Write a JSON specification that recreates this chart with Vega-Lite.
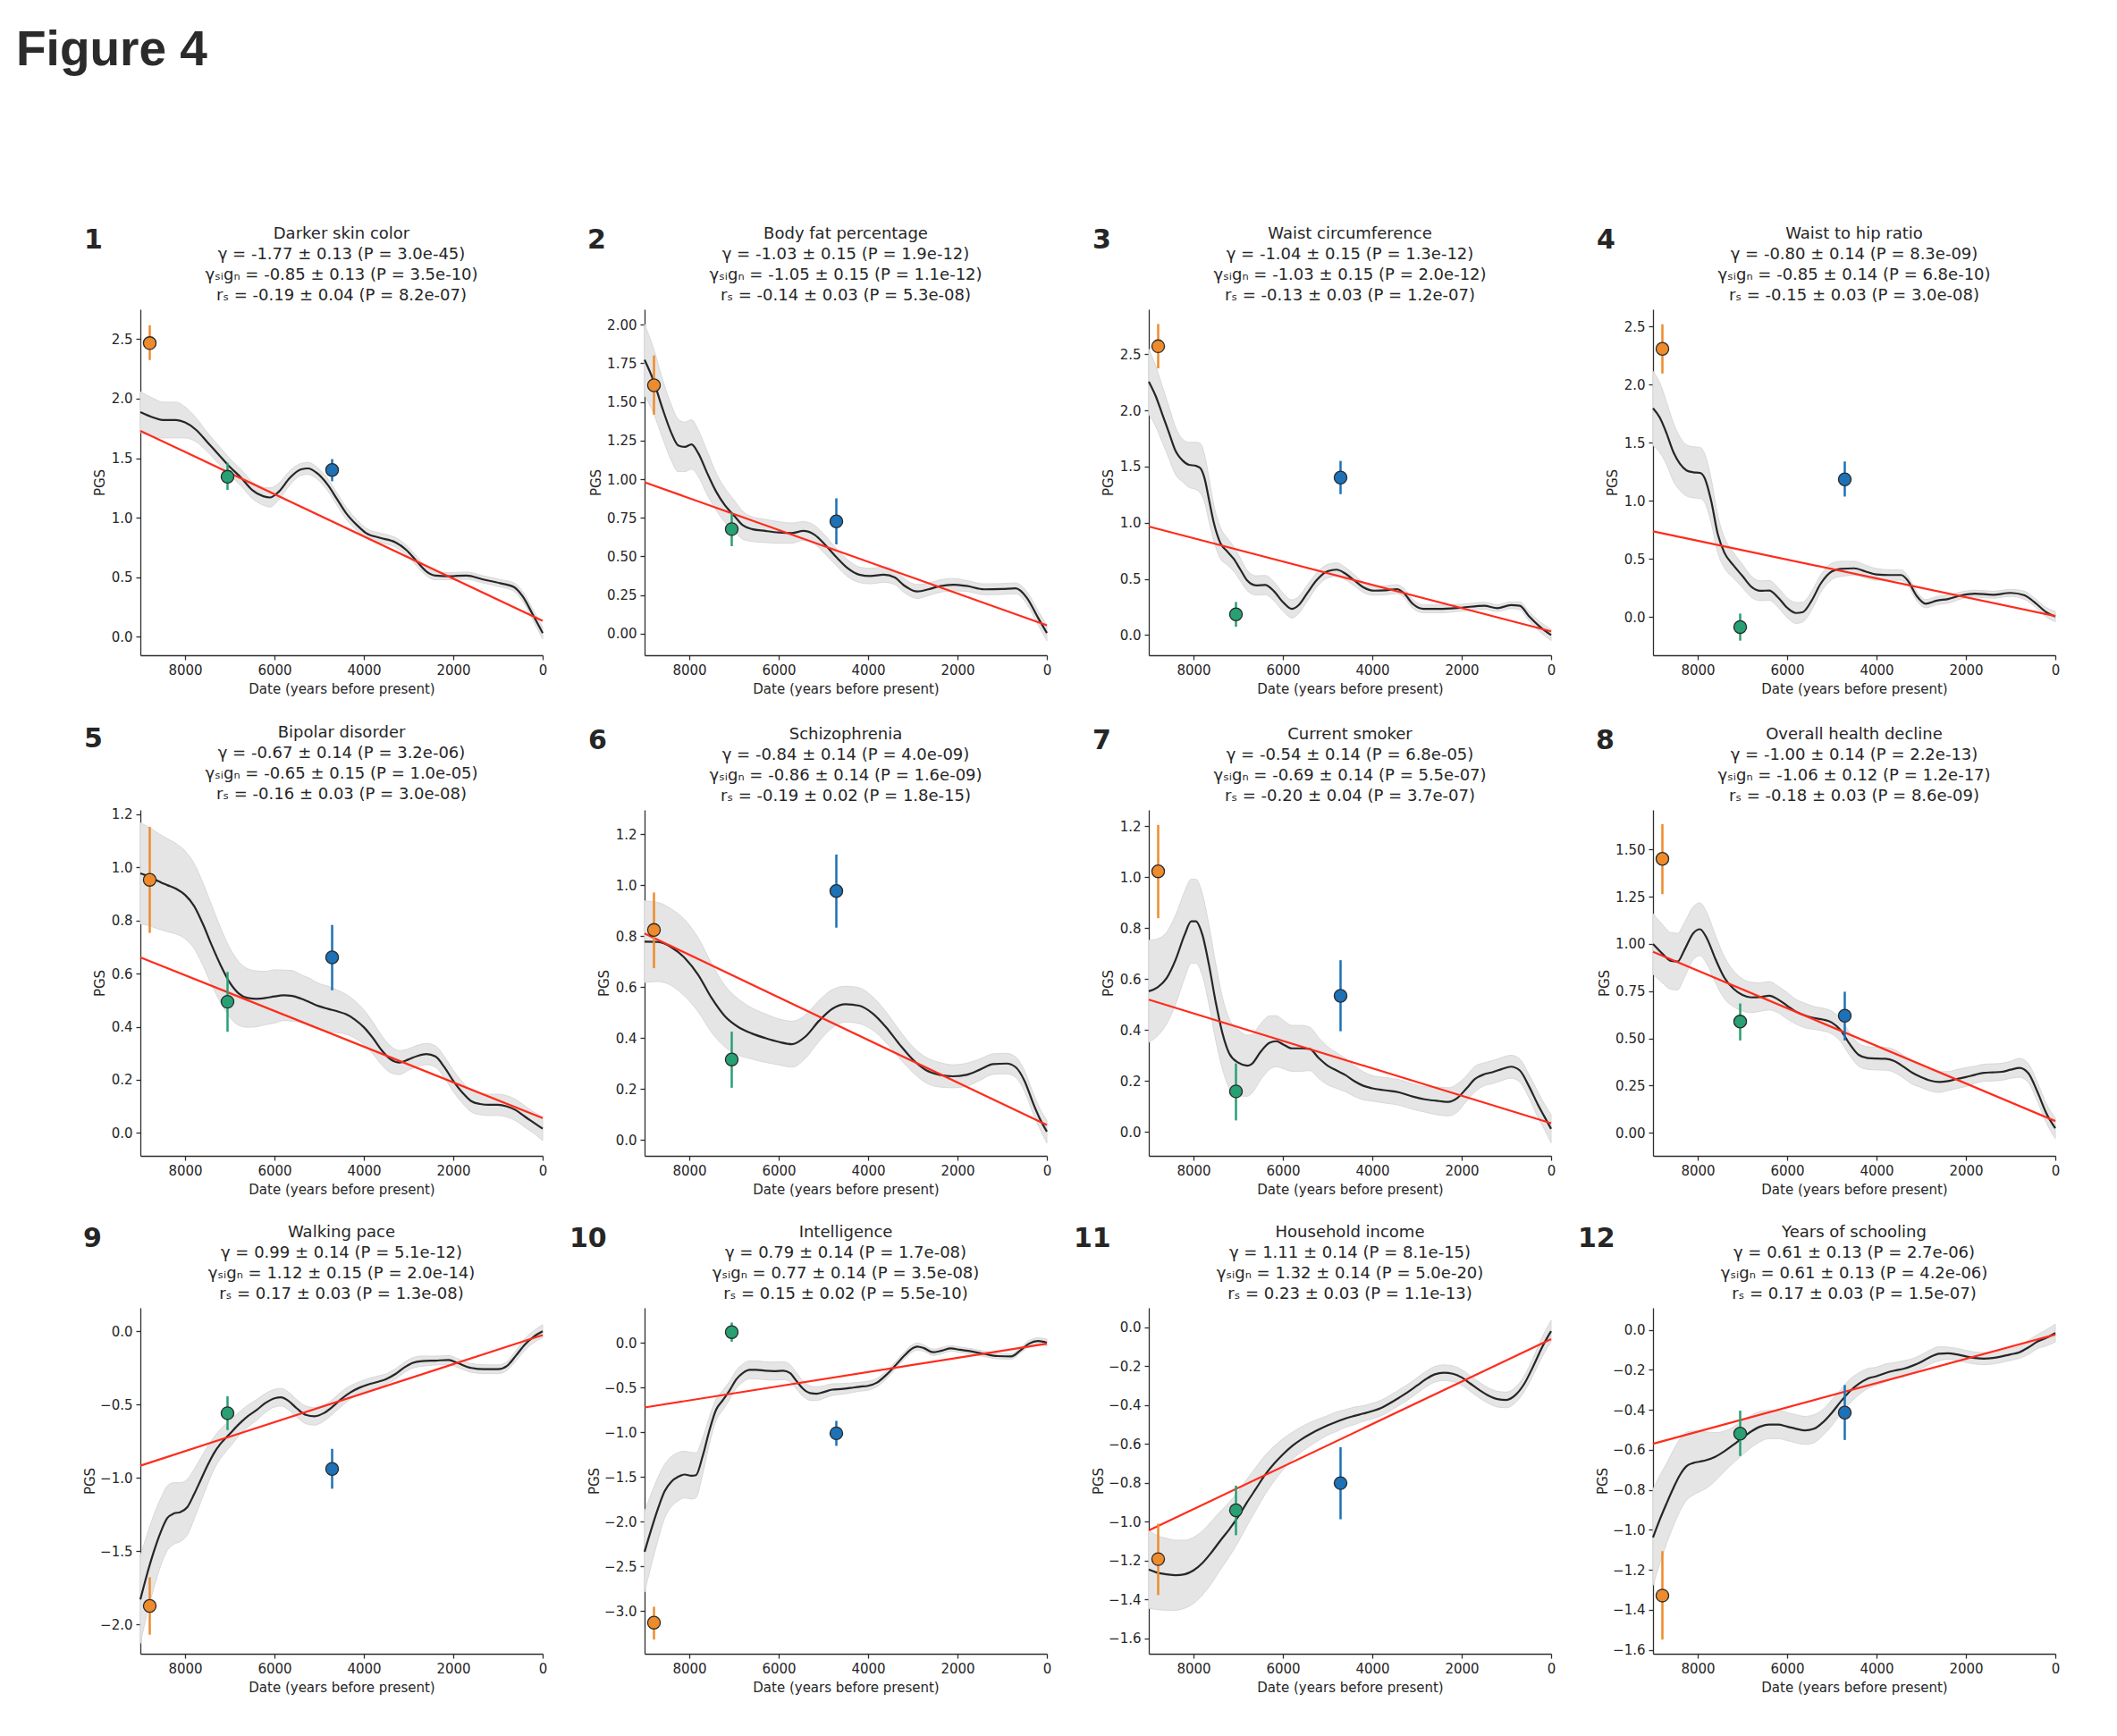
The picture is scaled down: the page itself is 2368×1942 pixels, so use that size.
{
"$schema":"https://vega.github.io/schema/vega-lite/v6.json",
"padding":{"left":18,"top":29,"right":20,"bottom":20},
"background":"white",
"title":{"text":"Figure 4","anchor":"start","frame":"bounds","font":"Liberation Sans","fontSize":55,"fontWeight":"bold","color":"#2b2b2b","dx":-75,"offset":168},
"datasets":{
"curves":[
{"p":1,"x":9000,"y":1.887,"lo":1.717,"hi":2.057},{"p":1,"x":8700,"y":1.84,"lo":1.68,"hi":2.0},{"p":1,"x":8500,"y":1.82,"lo":1.67,"hi":1.97},{"p":1,"x":8200,"y":1.82,"lo":1.67,"hi":1.97},{"p":1,"x":8000,"y":1.8,"lo":1.67,"hi":1.93},{"p":1,"x":7750,"y":1.737,"lo":1.637,"hi":1.837},{"p":1,"x":7500,"y":1.634,"lo":1.554,"hi":1.714},{"p":1,"x":7250,"y":1.53,"lo":1.455,"hi":1.605},{"p":1,"x":7000,"y":1.427,"lo":1.357,"hi":1.497},{"p":1,"x":6750,"y":1.337,"lo":1.267,"hi":1.407},{"p":1,"x":6500,"y":1.233,"lo":1.163,"hi":1.303},{"p":1,"x":6250,"y":1.18,"lo":1.105,"hi":1.255},{"p":1,"x":6100,"y":1.17,"lo":1.09,"hi":1.25},{"p":1,"x":5900,"y":1.22,"lo":1.15,"hi":1.29},{"p":1,"x":5650,"y":1.337,"lo":1.277,"hi":1.397},{"p":1,"x":5400,"y":1.406,"lo":1.356,"hi":1.456},{"p":1,"x":5250,"y":1.414,"lo":1.364,"hi":1.464},{"p":1,"x":5050,"y":1.375,"lo":1.325,"hi":1.425},{"p":1,"x":4800,"y":1.272,"lo":1.222,"hi":1.322},{"p":1,"x":4600,"y":1.156,"lo":1.106,"hi":1.206},{"p":1,"x":4400,"y":1.04,"lo":0.99,"hi":1.09},{"p":1,"x":4150,"y":0.936,"lo":0.891,"hi":0.981},{"p":1,"x":3950,"y":0.871,"lo":0.831,"hi":0.911},{"p":1,"x":3650,"y":0.832,"lo":0.792,"hi":0.872},{"p":1,"x":3300,"y":0.794,"lo":0.754,"hi":0.834},{"p":1,"x":3050,"y":0.729,"lo":0.689,"hi":0.769},{"p":1,"x":2800,"y":0.626,"lo":0.586,"hi":0.666},{"p":1,"x":2600,"y":0.548,"lo":0.513,"hi":0.583},{"p":1,"x":2400,"y":0.514,"lo":0.479,"hi":0.549},{"p":1,"x":2100,"y":0.509,"lo":0.479,"hi":0.539},{"p":1,"x":1700,"y":0.514,"lo":0.484,"hi":0.544},{"p":1,"x":1350,"y":0.483,"lo":0.453,"hi":0.513},{"p":1,"x":950,"y":0.45,"lo":0.42,"hi":0.48},{"p":1,"x":650,"y":0.419,"lo":0.384,"hi":0.454},{"p":1,"x":450,"y":0.341,"lo":0.301,"hi":0.381},{"p":1,"x":220,"y":0.186,"lo":0.141,"hi":0.231},{"p":1,"x":0,"y":0.031,"lo":-0.019,"hi":0.081},
{"p":2,"x":9000,"y":1.773,"lo":1.543,"hi":2.003},{"p":2,"x":8800,"y":1.637,"lo":1.427,"hi":1.847},{"p":2,"x":8600,"y":1.458,"lo":1.268,"hi":1.648},{"p":2,"x":8400,"y":1.299,"lo":1.119,"hi":1.479},{"p":2,"x":8250,"y":1.219,"lo":1.049,"hi":1.389},{"p":2,"x":8100,"y":1.209,"lo":1.049,"hi":1.369},{"p":2,"x":7950,"y":1.225,"lo":1.065,"hi":1.385},{"p":2,"x":7800,"y":1.169,"lo":1.019,"hi":1.319},{"p":2,"x":7600,"y":1.04,"lo":0.9,"hi":1.18},{"p":2,"x":7400,"y":0.92,"lo":0.8,"hi":1.04},{"p":2,"x":7200,"y":0.83,"lo":0.72,"hi":0.94},{"p":2,"x":7000,"y":0.765,"lo":0.665,"hi":0.865},{"p":2,"x":6800,"y":0.701,"lo":0.611,"hi":0.791},{"p":2,"x":6600,"y":0.677,"lo":0.597,"hi":0.757},{"p":2,"x":6300,"y":0.665,"lo":0.59,"hi":0.74},{"p":2,"x":6000,"y":0.655,"lo":0.585,"hi":0.725},{"p":2,"x":5700,"y":0.651,"lo":0.586,"hi":0.716},{"p":2,"x":5450,"y":0.665,"lo":0.605,"hi":0.725},{"p":2,"x":5200,"y":0.641,"lo":0.581,"hi":0.701},{"p":2,"x":4950,"y":0.572,"lo":0.512,"hi":0.632},{"p":2,"x":4700,"y":0.492,"lo":0.437,"hi":0.547},{"p":2,"x":4450,"y":0.422,"lo":0.367,"hi":0.477},{"p":2,"x":4200,"y":0.382,"lo":0.332,"hi":0.432},{"p":2,"x":3950,"y":0.373,"lo":0.323,"hi":0.423},{"p":2,"x":3650,"y":0.382,"lo":0.332,"hi":0.432},{"p":2,"x":3400,"y":0.363,"lo":0.318,"hi":0.408},{"p":2,"x":3200,"y":0.313,"lo":0.268,"hi":0.358},{"p":2,"x":2900,"y":0.273,"lo":0.228,"hi":0.318},{"p":2,"x":2650,"y":0.287,"lo":0.247,"hi":0.327},{"p":2,"x":2400,"y":0.307,"lo":0.267,"hi":0.347},{"p":2,"x":2100,"y":0.317,"lo":0.277,"hi":0.357},{"p":2,"x":1800,"y":0.309,"lo":0.274,"hi":0.344},{"p":2,"x":1400,"y":0.287,"lo":0.252,"hi":0.322},{"p":2,"x":1000,"y":0.289,"lo":0.254,"hi":0.324},{"p":2,"x":700,"y":0.293,"lo":0.258,"hi":0.328},{"p":2,"x":450,"y":0.233,"lo":0.193,"hi":0.273},{"p":2,"x":200,"y":0.104,"lo":0.059,"hi":0.149},{"p":2,"x":0,"y":0.004,"lo":-0.046,"hi":0.054},
{"p":3,"x":9000,"y":2.256,"lo":1.966,"hi":2.546},{"p":3,"x":8850,"y":2.132,"lo":1.862,"hi":2.402},{"p":3,"x":8700,"y":1.968,"lo":1.718,"hi":2.218},{"p":3,"x":8550,"y":1.803,"lo":1.573,"hi":2.033},{"p":3,"x":8400,"y":1.638,"lo":1.428,"hi":1.848},{"p":3,"x":8250,"y":1.556,"lo":1.366,"hi":1.746},{"p":3,"x":8100,"y":1.515,"lo":1.315,"hi":1.715},{"p":3,"x":7950,"y":1.507,"lo":1.297,"hi":1.717},{"p":3,"x":7850,"y":1.487,"lo":1.267,"hi":1.707},{"p":3,"x":7750,"y":1.391,"lo":1.181,"hi":1.601},{"p":3,"x":7650,"y":1.199,"lo":1.009,"hi":1.389},{"p":3,"x":7550,"y":1.007,"lo":0.847,"hi":1.167},{"p":3,"x":7400,"y":0.82,"lo":0.68,"hi":0.96},{"p":3,"x":7250,"y":0.746,"lo":0.626,"hi":0.866},{"p":3,"x":7100,"y":0.678,"lo":0.568,"hi":0.788},{"p":3,"x":6950,"y":0.582,"lo":0.482,"hi":0.682},{"p":3,"x":6800,"y":0.486,"lo":0.396,"hi":0.576},{"p":3,"x":6600,"y":0.442,"lo":0.357,"hi":0.527},{"p":3,"x":6400,"y":0.445,"lo":0.36,"hi":0.53},{"p":3,"x":6200,"y":0.39,"lo":0.305,"hi":0.475},{"p":3,"x":6000,"y":0.294,"lo":0.214,"hi":0.374},{"p":3,"x":5800,"y":0.233,"lo":0.153,"hi":0.313},{"p":3,"x":5650,"y":0.266,"lo":0.191,"hi":0.341},{"p":3,"x":5450,"y":0.376,"lo":0.306,"hi":0.446},{"p":3,"x":5250,"y":0.486,"lo":0.421,"hi":0.551},{"p":3,"x":5000,"y":0.568,"lo":0.508,"hi":0.628},{"p":3,"x":4800,"y":0.582,"lo":0.522,"hi":0.642},{"p":3,"x":4600,"y":0.546,"lo":0.491,"hi":0.601},{"p":3,"x":4400,"y":0.486,"lo":0.436,"hi":0.536},{"p":3,"x":4200,"y":0.425,"lo":0.38,"hi":0.47},{"p":3,"x":3950,"y":0.395,"lo":0.355,"hi":0.435},{"p":3,"x":3700,"y":0.398,"lo":0.358,"hi":0.438},{"p":3,"x":3450,"y":0.409,"lo":0.369,"hi":0.449},{"p":3,"x":3300,"y":0.376,"lo":0.336,"hi":0.416},{"p":3,"x":3100,"y":0.28,"lo":0.24,"hi":0.32},{"p":3,"x":2850,"y":0.233,"lo":0.198,"hi":0.268},{"p":3,"x":2500,"y":0.233,"lo":0.198,"hi":0.268},{"p":3,"x":2000,"y":0.244,"lo":0.214,"hi":0.274},{"p":3,"x":1500,"y":0.261,"lo":0.231,"hi":0.291},{"p":3,"x":1200,"y":0.239,"lo":0.209,"hi":0.269},{"p":3,"x":900,"y":0.266,"lo":0.236,"hi":0.296},{"p":3,"x":700,"y":0.261,"lo":0.226,"hi":0.296},{"p":3,"x":500,"y":0.17,"lo":0.13,"hi":0.21},{"p":3,"x":250,"y":0.074,"lo":0.029,"hi":0.119},{"p":3,"x":0,"y":0.0,"lo":-0.05,"hi":0.05},
{"p":4,"x":9000,"y":1.797,"lo":1.477,"hi":2.117},{"p":4,"x":8850,"y":1.718,"lo":1.418,"hi":2.018},{"p":4,"x":8700,"y":1.585,"lo":1.315,"hi":1.855},{"p":4,"x":8550,"y":1.426,"lo":1.176,"hi":1.676},{"p":4,"x":8400,"y":1.32,"lo":1.09,"hi":1.55},{"p":4,"x":8250,"y":1.262,"lo":1.042,"hi":1.482},{"p":4,"x":8100,"y":1.246,"lo":1.026,"hi":1.466},{"p":4,"x":7950,"y":1.241,"lo":1.021,"hi":1.461},{"p":4,"x":7850,"y":1.201,"lo":0.991,"hi":1.411},{"p":4,"x":7700,"y":1.002,"lo":0.812,"hi":1.192},{"p":4,"x":7550,"y":0.711,"lo":0.551,"hi":0.871},{"p":4,"x":7400,"y":0.551,"lo":0.421,"hi":0.681},{"p":4,"x":7200,"y":0.445,"lo":0.335,"hi":0.555},{"p":4,"x":7000,"y":0.353,"lo":0.253,"hi":0.453},{"p":4,"x":6800,"y":0.26,"lo":0.17,"hi":0.35},{"p":4,"x":6600,"y":0.225,"lo":0.14,"hi":0.31},{"p":4,"x":6400,"y":0.228,"lo":0.143,"hi":0.313},{"p":4,"x":6200,"y":0.167,"lo":0.082,"hi":0.252},{"p":4,"x":6000,"y":0.08,"lo":-0.005,"hi":0.165},{"p":4,"x":5800,"y":0.034,"lo":-0.056,"hi":0.124},{"p":4,"x":5650,"y":0.042,"lo":-0.043,"hi":0.127},{"p":4,"x":5450,"y":0.141,"lo":0.061,"hi":0.221},{"p":4,"x":5250,"y":0.286,"lo":0.211,"hi":0.361},{"p":4,"x":5000,"y":0.392,"lo":0.322,"hi":0.462},{"p":4,"x":4800,"y":0.414,"lo":0.349,"hi":0.479},{"p":4,"x":4500,"y":0.419,"lo":0.359,"hi":0.479},{"p":4,"x":4250,"y":0.392,"lo":0.337,"hi":0.447},{"p":4,"x":4000,"y":0.366,"lo":0.316,"hi":0.416},{"p":4,"x":3700,"y":0.361,"lo":0.316,"hi":0.406},{"p":4,"x":3450,"y":0.361,"lo":0.316,"hi":0.406},{"p":4,"x":3300,"y":0.313,"lo":0.273,"hi":0.353},{"p":4,"x":3100,"y":0.18,"lo":0.14,"hi":0.22},{"p":4,"x":2900,"y":0.114,"lo":0.079,"hi":0.149},{"p":4,"x":2650,"y":0.141,"lo":0.106,"hi":0.176},{"p":4,"x":2400,"y":0.154,"lo":0.119,"hi":0.189},{"p":4,"x":2100,"y":0.186,"lo":0.156,"hi":0.216},{"p":4,"x":1800,"y":0.201,"lo":0.171,"hi":0.231},{"p":4,"x":1400,"y":0.191,"lo":0.161,"hi":0.221},{"p":4,"x":1000,"y":0.207,"lo":0.177,"hi":0.237},{"p":4,"x":700,"y":0.188,"lo":0.153,"hi":0.223},{"p":4,"x":450,"y":0.122,"lo":0.087,"hi":0.157},{"p":4,"x":200,"y":0.04,"lo":0.0,"hi":0.08},{"p":4,"x":0,"y":0.003,"lo":-0.042,"hi":0.048},
{"p":5,"x":9000,"y":0.977,"lo":0.787,"hi":1.167},{"p":5,"x":8800,"y":0.965,"lo":0.78,"hi":1.15},{"p":5,"x":8600,"y":0.948,"lo":0.768,"hi":1.128},{"p":5,"x":8400,"y":0.933,"lo":0.758,"hi":1.108},{"p":5,"x":8200,"y":0.919,"lo":0.749,"hi":1.089},{"p":5,"x":8000,"y":0.896,"lo":0.731,"hi":1.061},{"p":5,"x":7800,"y":0.855,"lo":0.695,"hi":1.015},{"p":5,"x":7600,"y":0.786,"lo":0.631,"hi":0.941},{"p":5,"x":7400,"y":0.705,"lo":0.555,"hi":0.855},{"p":5,"x":7200,"y":0.63,"lo":0.49,"hi":0.77},{"p":5,"x":7000,"y":0.566,"lo":0.436,"hi":0.696},{"p":5,"x":6800,"y":0.525,"lo":0.405,"hi":0.645},{"p":5,"x":6600,"y":0.508,"lo":0.398,"hi":0.618},{"p":5,"x":6400,"y":0.505,"lo":0.4,"hi":0.61},{"p":5,"x":6200,"y":0.508,"lo":0.408,"hi":0.608},{"p":5,"x":6000,"y":0.514,"lo":0.414,"hi":0.614},{"p":5,"x":5800,"y":0.518,"lo":0.423,"hi":0.613},{"p":5,"x":5600,"y":0.516,"lo":0.421,"hi":0.611},{"p":5,"x":5400,"y":0.505,"lo":0.415,"hi":0.595},{"p":5,"x":5200,"y":0.491,"lo":0.401,"hi":0.581},{"p":5,"x":5000,"y":0.477,"lo":0.392,"hi":0.562},{"p":5,"x":4800,"y":0.467,"lo":0.382,"hi":0.552},{"p":5,"x":4600,"y":0.458,"lo":0.378,"hi":0.538},{"p":5,"x":4400,"y":0.447,"lo":0.372,"hi":0.522},{"p":5,"x":4200,"y":0.427,"lo":0.357,"hi":0.497},{"p":5,"x":4000,"y":0.398,"lo":0.333,"hi":0.463},{"p":5,"x":3800,"y":0.358,"lo":0.298,"hi":0.418},{"p":5,"x":3600,"y":0.311,"lo":0.256,"hi":0.366},{"p":5,"x":3400,"y":0.277,"lo":0.227,"hi":0.327},{"p":5,"x":3200,"y":0.265,"lo":0.22,"hi":0.31},{"p":5,"x":3000,"y":0.277,"lo":0.237,"hi":0.317},{"p":5,"x":2800,"y":0.29,"lo":0.25,"hi":0.33},{"p":5,"x":2600,"y":0.297,"lo":0.257,"hi":0.337},{"p":5,"x":2400,"y":0.288,"lo":0.248,"hi":0.328},{"p":5,"x":2200,"y":0.248,"lo":0.208,"hi":0.288},{"p":5,"x":2000,"y":0.196,"lo":0.156,"hi":0.236},{"p":5,"x":1800,"y":0.153,"lo":0.113,"hi":0.193},{"p":5,"x":1600,"y":0.12,"lo":0.08,"hi":0.16},{"p":5,"x":1400,"y":0.109,"lo":0.069,"hi":0.149},{"p":5,"x":1200,"y":0.106,"lo":0.066,"hi":0.146},{"p":5,"x":1000,"y":0.106,"lo":0.066,"hi":0.146},{"p":5,"x":800,"y":0.1,"lo":0.06,"hi":0.14},{"p":5,"x":600,"y":0.086,"lo":0.046,"hi":0.126},{"p":5,"x":400,"y":0.062,"lo":0.022,"hi":0.102},{"p":5,"x":200,"y":0.039,"lo":-0.001,"hi":0.079},{"p":5,"x":0,"y":0.016,"lo":-0.029,"hi":0.061},
{"p":6,"x":9000,"y":0.778,"lo":0.618,"hi":0.938},{"p":6,"x":8700,"y":0.777,"lo":0.622,"hi":0.932},{"p":6,"x":8400,"y":0.756,"lo":0.606,"hi":0.906},{"p":6,"x":8100,"y":0.714,"lo":0.564,"hi":0.864},{"p":6,"x":7800,"y":0.648,"lo":0.503,"hi":0.793},{"p":6,"x":7500,"y":0.557,"lo":0.422,"hi":0.692},{"p":6,"x":7200,"y":0.485,"lo":0.365,"hi":0.605},{"p":6,"x":6900,"y":0.443,"lo":0.333,"hi":0.553},{"p":6,"x":6600,"y":0.418,"lo":0.318,"hi":0.518},{"p":6,"x":6300,"y":0.4,"lo":0.305,"hi":0.495},{"p":6,"x":6000,"y":0.385,"lo":0.295,"hi":0.475},{"p":6,"x":5700,"y":0.376,"lo":0.286,"hi":0.466},{"p":6,"x":5400,"y":0.406,"lo":0.321,"hi":0.491},{"p":6,"x":5100,"y":0.467,"lo":0.387,"hi":0.547},{"p":6,"x":4800,"y":0.515,"lo":0.44,"hi":0.59},{"p":6,"x":4500,"y":0.533,"lo":0.463,"hi":0.603},{"p":6,"x":4200,"y":0.527,"lo":0.457,"hi":0.597},{"p":6,"x":3900,"y":0.497,"lo":0.432,"hi":0.562},{"p":6,"x":3600,"y":0.443,"lo":0.383,"hi":0.503},{"p":6,"x":3300,"y":0.376,"lo":0.321,"hi":0.431},{"p":6,"x":3000,"y":0.316,"lo":0.266,"hi":0.366},{"p":6,"x":2700,"y":0.274,"lo":0.224,"hi":0.324},{"p":6,"x":2400,"y":0.256,"lo":0.208,"hi":0.304},{"p":6,"x":2100,"y":0.25,"lo":0.205,"hi":0.295},{"p":6,"x":1800,"y":0.256,"lo":0.211,"hi":0.301},{"p":6,"x":1500,"y":0.276,"lo":0.234,"hi":0.318},{"p":6,"x":1200,"y":0.298,"lo":0.258,"hi":0.338},{"p":6,"x":900,"y":0.3,"lo":0.26,"hi":0.34},{"p":6,"x":700,"y":0.286,"lo":0.246,"hi":0.326},{"p":6,"x":500,"y":0.232,"lo":0.192,"hi":0.272},{"p":6,"x":300,"y":0.141,"lo":0.101,"hi":0.181},{"p":6,"x":150,"y":0.081,"lo":0.041,"hi":0.121},{"p":6,"x":0,"y":0.033,"lo":-0.012,"hi":0.078},
{"p":7,"x":9000,"y":0.552,"lo":0.352,"hi":0.752},{"p":7,"x":8800,"y":0.568,"lo":0.378,"hi":0.758},{"p":7,"x":8600,"y":0.604,"lo":0.424,"hi":0.784},{"p":7,"x":8400,"y":0.676,"lo":0.501,"hi":0.851},{"p":7,"x":8200,"y":0.773,"lo":0.603,"hi":0.943},{"p":7,"x":8050,"y":0.827,"lo":0.662,"hi":0.992},{"p":7,"x":7950,"y":0.827,"lo":0.662,"hi":0.992},{"p":7,"x":7800,"y":0.773,"lo":0.613,"hi":0.933},{"p":7,"x":7650,"y":0.652,"lo":0.497,"hi":0.807},{"p":7,"x":7500,"y":0.507,"lo":0.357,"hi":0.657},{"p":7,"x":7350,"y":0.386,"lo":0.246,"hi":0.526},{"p":7,"x":7200,"y":0.308,"lo":0.173,"hi":0.443},{"p":7,"x":7000,"y":0.272,"lo":0.142,"hi":0.402},{"p":7,"x":6800,"y":0.26,"lo":0.14,"hi":0.38},{"p":7,"x":6700,"y":0.266,"lo":0.151,"hi":0.381},{"p":7,"x":6500,"y":0.314,"lo":0.204,"hi":0.424},{"p":7,"x":6300,"y":0.35,"lo":0.245,"hi":0.455},{"p":7,"x":6150,"y":0.356,"lo":0.256,"hi":0.456},{"p":7,"x":6000,"y":0.344,"lo":0.249,"hi":0.439},{"p":7,"x":5800,"y":0.328,"lo":0.238,"hi":0.418},{"p":7,"x":5600,"y":0.328,"lo":0.238,"hi":0.418},{"p":7,"x":5400,"y":0.326,"lo":0.241,"hi":0.411},{"p":7,"x":5200,"y":0.29,"lo":0.21,"hi":0.37},{"p":7,"x":5000,"y":0.26,"lo":0.185,"hi":0.335},{"p":7,"x":4800,"y":0.241,"lo":0.171,"hi":0.311},{"p":7,"x":4600,"y":0.223,"lo":0.158,"hi":0.288},{"p":7,"x":4400,"y":0.199,"lo":0.139,"hi":0.259},{"p":7,"x":4200,"y":0.181,"lo":0.126,"hi":0.236},{"p":7,"x":4000,"y":0.171,"lo":0.121,"hi":0.221},{"p":7,"x":3700,"y":0.163,"lo":0.113,"hi":0.213},{"p":7,"x":3400,"y":0.155,"lo":0.105,"hi":0.205},{"p":7,"x":3100,"y":0.139,"lo":0.089,"hi":0.189},{"p":7,"x":2800,"y":0.127,"lo":0.077,"hi":0.177},{"p":7,"x":2500,"y":0.121,"lo":0.066,"hi":0.176},{"p":7,"x":2300,"y":0.118,"lo":0.063,"hi":0.173},{"p":7,"x":2100,"y":0.133,"lo":0.078,"hi":0.188},{"p":7,"x":1900,"y":0.169,"lo":0.119,"hi":0.219},{"p":7,"x":1700,"y":0.208,"lo":0.158,"hi":0.258},{"p":7,"x":1500,"y":0.226,"lo":0.181,"hi":0.271},{"p":7,"x":1300,"y":0.235,"lo":0.19,"hi":0.28},{"p":7,"x":1100,"y":0.247,"lo":0.202,"hi":0.292},{"p":7,"x":900,"y":0.256,"lo":0.211,"hi":0.301},{"p":7,"x":700,"y":0.241,"lo":0.196,"hi":0.286},{"p":7,"x":500,"y":0.181,"lo":0.136,"hi":0.226},{"p":7,"x":300,"y":0.109,"lo":0.059,"hi":0.159},{"p":7,"x":150,"y":0.06,"lo":0.01,"hi":0.11},{"p":7,"x":0,"y":0.012,"lo":-0.043,"hi":0.067},
{"p":8,"x":9000,"y":1.0,"lo":0.84,"hi":1.16},{"p":8,"x":8800,"y":0.951,"lo":0.796,"hi":1.106},{"p":8,"x":8600,"y":0.91,"lo":0.76,"hi":1.06},{"p":8,"x":8450,"y":0.907,"lo":0.757,"hi":1.057},{"p":8,"x":8300,"y":0.967,"lo":0.822,"hi":1.112},{"p":8,"x":8100,"y":1.057,"lo":0.917,"hi":1.197},{"p":8,"x":7950,"y":1.078,"lo":0.938,"hi":1.218},{"p":8,"x":7800,"y":1.032,"lo":0.897,"hi":1.167},{"p":8,"x":7600,"y":0.918,"lo":0.793,"hi":1.043},{"p":8,"x":7400,"y":0.82,"lo":0.71,"hi":0.93},{"p":8,"x":7200,"y":0.763,"lo":0.668,"hi":0.858},{"p":8,"x":7000,"y":0.73,"lo":0.645,"hi":0.815},{"p":8,"x":6800,"y":0.717,"lo":0.637,"hi":0.797},{"p":8,"x":6600,"y":0.719,"lo":0.644,"hi":0.794},{"p":8,"x":6400,"y":0.726,"lo":0.651,"hi":0.801},{"p":8,"x":6200,"y":0.706,"lo":0.636,"hi":0.776},{"p":8,"x":6000,"y":0.673,"lo":0.603,"hi":0.743},{"p":8,"x":5800,"y":0.641,"lo":0.576,"hi":0.706},{"p":8,"x":5600,"y":0.621,"lo":0.556,"hi":0.686},{"p":8,"x":5400,"y":0.608,"lo":0.548,"hi":0.668},{"p":8,"x":5200,"y":0.6,"lo":0.54,"hi":0.66},{"p":8,"x":5000,"y":0.584,"lo":0.524,"hi":0.644},{"p":8,"x":4800,"y":0.543,"lo":0.483,"hi":0.603},{"p":8,"x":4600,"y":0.47,"lo":0.41,"hi":0.53},{"p":8,"x":4400,"y":0.413,"lo":0.353,"hi":0.473},{"p":8,"x":4200,"y":0.396,"lo":0.336,"hi":0.456},{"p":8,"x":4000,"y":0.393,"lo":0.333,"hi":0.453},{"p":8,"x":3800,"y":0.392,"lo":0.332,"hi":0.452},{"p":8,"x":3600,"y":0.38,"lo":0.32,"hi":0.44},{"p":8,"x":3400,"y":0.351,"lo":0.291,"hi":0.411},{"p":8,"x":3200,"y":0.318,"lo":0.258,"hi":0.378},{"p":8,"x":3000,"y":0.295,"lo":0.24,"hi":0.35},{"p":8,"x":2800,"y":0.277,"lo":0.222,"hi":0.332},{"p":8,"x":2600,"y":0.269,"lo":0.214,"hi":0.324},{"p":8,"x":2400,"y":0.274,"lo":0.224,"hi":0.324},{"p":8,"x":2200,"y":0.285,"lo":0.235,"hi":0.335},{"p":8,"x":2000,"y":0.295,"lo":0.245,"hi":0.345},{"p":8,"x":1800,"y":0.307,"lo":0.262,"hi":0.352},{"p":8,"x":1600,"y":0.318,"lo":0.273,"hi":0.363},{"p":8,"x":1400,"y":0.32,"lo":0.275,"hi":0.365},{"p":8,"x":1200,"y":0.323,"lo":0.278,"hi":0.368},{"p":8,"x":1000,"y":0.334,"lo":0.289,"hi":0.379},{"p":8,"x":800,"y":0.344,"lo":0.294,"hi":0.394},{"p":8,"x":600,"y":0.315,"lo":0.265,"hi":0.365},{"p":8,"x":400,"y":0.217,"lo":0.167,"hi":0.267},{"p":8,"x":200,"y":0.103,"lo":0.053,"hi":0.153},{"p":8,"x":0,"y":0.024,"lo":-0.031,"hi":0.079},
{"p":9,"x":9000,"y":-1.83,"lo":-2.13,"hi":-1.53},{"p":9,"x":8850,"y":-1.657,"lo":-1.927,"hi":-1.387},{"p":9,"x":8700,"y":-1.504,"lo":-1.754,"hi":-1.254},{"p":9,"x":8550,"y":-1.374,"lo":-1.604,"hi":-1.144},{"p":9,"x":8400,"y":-1.276,"lo":-1.496,"hi":-1.056},{"p":9,"x":8250,"y":-1.243,"lo":-1.453,"hi":-1.033},{"p":9,"x":8100,"y":-1.233,"lo":-1.433,"hi":-1.033},{"p":9,"x":7950,"y":-1.2,"lo":-1.39,"hi":-1.01},{"p":9,"x":7800,"y":-1.113,"lo":-1.283,"hi":-0.943},{"p":9,"x":7650,"y":-1.015,"lo":-1.165,"hi":-0.865},{"p":9,"x":7500,"y":-0.917,"lo":-1.047,"hi":-0.787},{"p":9,"x":7350,"y":-0.83,"lo":-0.94,"hi":-0.72},{"p":9,"x":7200,"y":-0.765,"lo":-0.865,"hi":-0.665},{"p":9,"x":7000,"y":-0.7,"lo":-0.79,"hi":-0.61},{"p":9,"x":6800,"y":-0.635,"lo":-0.715,"hi":-0.555},{"p":9,"x":6600,"y":-0.58,"lo":-0.655,"hi":-0.505},{"p":9,"x":6400,"y":-0.537,"lo":-0.607,"hi":-0.467},{"p":9,"x":6200,"y":-0.489,"lo":-0.554,"hi":-0.424},{"p":9,"x":6000,"y":-0.457,"lo":-0.517,"hi":-0.397},{"p":9,"x":5850,"y":-0.45,"lo":-0.51,"hi":-0.39},{"p":9,"x":5700,"y":-0.472,"lo":-0.532,"hi":-0.412},{"p":9,"x":5500,"y":-0.526,"lo":-0.586,"hi":-0.466},{"p":9,"x":5300,"y":-0.57,"lo":-0.63,"hi":-0.51},{"p":9,"x":5100,"y":-0.58,"lo":-0.64,"hi":-0.52},{"p":9,"x":4900,"y":-0.559,"lo":-0.614,"hi":-0.504},{"p":9,"x":4700,"y":-0.515,"lo":-0.565,"hi":-0.465},{"p":9,"x":4500,"y":-0.461,"lo":-0.511,"hi":-0.411},{"p":9,"x":4300,"y":-0.417,"lo":-0.462,"hi":-0.372},{"p":9,"x":4100,"y":-0.385,"lo":-0.425,"hi":-0.345},{"p":9,"x":3900,"y":-0.363,"lo":-0.403,"hi":-0.323},{"p":9,"x":3700,"y":-0.346,"lo":-0.386,"hi":-0.306},{"p":9,"x":3500,"y":-0.326,"lo":-0.361,"hi":-0.291},{"p":9,"x":3300,"y":-0.293,"lo":-0.328,"hi":-0.258},{"p":9,"x":3100,"y":-0.248,"lo":-0.283,"hi":-0.213},{"p":9,"x":2900,"y":-0.215,"lo":-0.25,"hi":-0.18},{"p":9,"x":2700,"y":-0.204,"lo":-0.239,"hi":-0.169},{"p":9,"x":2400,"y":-0.2,"lo":-0.23,"hi":-0.17},{"p":9,"x":2100,"y":-0.196,"lo":-0.226,"hi":-0.166},{"p":9,"x":1900,"y":-0.217,"lo":-0.247,"hi":-0.187},{"p":9,"x":1600,"y":-0.25,"lo":-0.28,"hi":-0.22},{"p":9,"x":1300,"y":-0.259,"lo":-0.289,"hi":-0.229},{"p":9,"x":1000,"y":-0.259,"lo":-0.289,"hi":-0.229},{"p":9,"x":800,"y":-0.237,"lo":-0.267,"hi":-0.207},{"p":9,"x":600,"y":-0.167,"lo":-0.202,"hi":-0.132},{"p":9,"x":400,"y":-0.091,"lo":-0.131,"hi":-0.051},{"p":9,"x":200,"y":-0.037,"lo":-0.077,"hi":0.003},{"p":9,"x":0,"y":0.0,"lo":-0.045,"hi":0.045},
{"p":10,"x":9000,"y":-2.339,"lo":-2.789,"hi":-1.889},{"p":10,"x":8850,"y":-2.089,"lo":-2.489,"hi":-1.689},{"p":10,"x":8700,"y":-1.857,"lo":-2.207,"hi":-1.507},{"p":10,"x":8550,"y":-1.661,"lo":-1.961,"hi":-1.361},{"p":10,"x":8400,"y":-1.554,"lo":-1.834,"hi":-1.274},{"p":10,"x":8250,"y":-1.5,"lo":-1.77,"hi":-1.23},{"p":10,"x":8100,"y":-1.475,"lo":-1.735,"hi":-1.215},{"p":10,"x":7950,"y":-1.489,"lo":-1.749,"hi":-1.229},{"p":10,"x":7850,"y":-1.482,"lo":-1.732,"hi":-1.232},{"p":10,"x":7700,"y":-1.268,"lo":-1.468,"hi":-1.068},{"p":10,"x":7550,"y":-0.982,"lo":-1.132,"hi":-0.832},{"p":10,"x":7400,"y":-0.75,"lo":-0.87,"hi":-0.63},{"p":10,"x":7250,"y":-0.643,"lo":-0.753,"hi":-0.533},{"p":10,"x":7100,"y":-0.536,"lo":-0.636,"hi":-0.436},{"p":10,"x":6950,"y":-0.411,"lo":-0.511,"hi":-0.311},{"p":10,"x":6800,"y":-0.339,"lo":-0.439,"hi":-0.239},{"p":10,"x":6650,"y":-0.304,"lo":-0.404,"hi":-0.204},{"p":10,"x":6500,"y":-0.304,"lo":-0.404,"hi":-0.204},{"p":10,"x":6300,"y":-0.314,"lo":-0.414,"hi":-0.214},{"p":10,"x":6100,"y":-0.318,"lo":-0.418,"hi":-0.218},{"p":10,"x":5900,"y":-0.314,"lo":-0.414,"hi":-0.214},{"p":10,"x":5750,"y":-0.339,"lo":-0.434,"hi":-0.244},{"p":10,"x":5600,"y":-0.429,"lo":-0.519,"hi":-0.339},{"p":10,"x":5450,"y":-0.518,"lo":-0.603,"hi":-0.433},{"p":10,"x":5300,"y":-0.564,"lo":-0.644,"hi":-0.484},{"p":10,"x":5150,"y":-0.571,"lo":-0.646,"hi":-0.496},{"p":10,"x":5000,"y":-0.554,"lo":-0.624,"hi":-0.484},{"p":10,"x":4800,"y":-0.525,"lo":-0.59,"hi":-0.46},{"p":10,"x":4600,"y":-0.518,"lo":-0.578,"hi":-0.458},{"p":10,"x":4400,"y":-0.507,"lo":-0.562,"hi":-0.452},{"p":10,"x":4200,"y":-0.493,"lo":-0.543,"hi":-0.443},{"p":10,"x":4000,"y":-0.482,"lo":-0.532,"hi":-0.432},{"p":10,"x":3800,"y":-0.446,"lo":-0.491,"hi":-0.401},{"p":10,"x":3600,"y":-0.364,"lo":-0.409,"hi":-0.319},{"p":10,"x":3400,"y":-0.261,"lo":-0.301,"hi":-0.221},{"p":10,"x":3200,"y":-0.15,"lo":-0.19,"hi":-0.11},{"p":10,"x":3000,"y":-0.061,"lo":-0.101,"hi":-0.021},{"p":10,"x":2900,"y":-0.043,"lo":-0.083,"hi":-0.003},{"p":10,"x":2750,"y":-0.061,"lo":-0.096,"hi":-0.026},{"p":10,"x":2550,"y":-0.107,"lo":-0.142,"hi":-0.072},{"p":10,"x":2350,"y":-0.089,"lo":-0.124,"hi":-0.054},{"p":10,"x":2150,"y":-0.064,"lo":-0.094,"hi":-0.034},{"p":10,"x":1950,"y":-0.079,"lo":-0.109,"hi":-0.049},{"p":10,"x":1700,"y":-0.096,"lo":-0.126,"hi":-0.066},{"p":10,"x":1400,"y":-0.125,"lo":-0.155,"hi":-0.095},{"p":10,"x":1100,"y":-0.15,"lo":-0.18,"hi":-0.12},{"p":10,"x":800,"y":-0.154,"lo":-0.184,"hi":-0.124},{"p":10,"x":600,"y":-0.089,"lo":-0.119,"hi":-0.059},{"p":10,"x":400,"y":-0.011,"lo":-0.046,"hi":0.024},{"p":10,"x":200,"y":0.018,"lo":-0.017,"hi":0.053},{"p":10,"x":0,"y":0.0,"lo":-0.04,"hi":0.04},
{"p":11,"x":9000,"y":-1.246,"lo":-1.446,"hi":-1.046},{"p":11,"x":8800,"y":-1.263,"lo":-1.453,"hi":-1.073},{"p":11,"x":8600,"y":-1.271,"lo":-1.456,"hi":-1.086},{"p":11,"x":8400,"y":-1.276,"lo":-1.456,"hi":-1.096},{"p":11,"x":8200,"y":-1.271,"lo":-1.446,"hi":-1.096},{"p":11,"x":8000,"y":-1.251,"lo":-1.421,"hi":-1.081},{"p":11,"x":7800,"y":-1.213,"lo":-1.378,"hi":-1.048},{"p":11,"x":7600,"y":-1.159,"lo":-1.319,"hi":-0.999},{"p":11,"x":7400,"y":-1.098,"lo":-1.248,"hi":-0.948},{"p":11,"x":7200,"y":-1.04,"lo":-1.18,"hi":-0.9},{"p":11,"x":7000,"y":-0.975,"lo":-1.105,"hi":-0.845},{"p":11,"x":6800,"y":-0.9,"lo":-1.02,"hi":-0.78},{"p":11,"x":6600,"y":-0.83,"lo":-0.94,"hi":-0.72},{"p":11,"x":6400,"y":-0.76,"lo":-0.86,"hi":-0.66},{"p":11,"x":6200,"y":-0.703,"lo":-0.793,"hi":-0.613},{"p":11,"x":6000,"y":-0.654,"lo":-0.734,"hi":-0.574},{"p":11,"x":5800,"y":-0.612,"lo":-0.682,"hi":-0.542},{"p":11,"x":5600,"y":-0.579,"lo":-0.644,"hi":-0.514},{"p":11,"x":5400,"y":-0.551,"lo":-0.611,"hi":-0.491},{"p":11,"x":5200,"y":-0.527,"lo":-0.582,"hi":-0.472},{"p":11,"x":5000,"y":-0.505,"lo":-0.555,"hi":-0.455},{"p":11,"x":4800,"y":-0.486,"lo":-0.536,"hi":-0.436},{"p":11,"x":4600,"y":-0.469,"lo":-0.514,"hi":-0.424},{"p":11,"x":4400,"y":-0.456,"lo":-0.501,"hi":-0.411},{"p":11,"x":4200,"y":-0.444,"lo":-0.484,"hi":-0.404},{"p":11,"x":4000,"y":-0.431,"lo":-0.471,"hi":-0.391},{"p":11,"x":3800,"y":-0.415,"lo":-0.455,"hi":-0.375},{"p":11,"x":3600,"y":-0.39,"lo":-0.43,"hi":-0.35},{"p":11,"x":3400,"y":-0.362,"lo":-0.402,"hi":-0.322},{"p":11,"x":3200,"y":-0.333,"lo":-0.373,"hi":-0.293},{"p":11,"x":3000,"y":-0.3,"lo":-0.34,"hi":-0.26},{"p":11,"x":2800,"y":-0.267,"lo":-0.307,"hi":-0.227},{"p":11,"x":2600,"y":-0.242,"lo":-0.282,"hi":-0.202},{"p":11,"x":2400,"y":-0.234,"lo":-0.274,"hi":-0.194},{"p":11,"x":2200,"y":-0.239,"lo":-0.279,"hi":-0.199},{"p":11,"x":2000,"y":-0.258,"lo":-0.298,"hi":-0.218},{"p":11,"x":1800,"y":-0.291,"lo":-0.331,"hi":-0.251},{"p":11,"x":1600,"y":-0.324,"lo":-0.364,"hi":-0.284},{"p":11,"x":1400,"y":-0.352,"lo":-0.392,"hi":-0.312},{"p":11,"x":1200,"y":-0.37,"lo":-0.41,"hi":-0.33},{"p":11,"x":1000,"y":-0.374,"lo":-0.414,"hi":-0.334},{"p":11,"x":800,"y":-0.349,"lo":-0.389,"hi":-0.309},{"p":11,"x":600,"y":-0.291,"lo":-0.331,"hi":-0.251},{"p":11,"x":400,"y":-0.201,"lo":-0.246,"hi":-0.156},{"p":11,"x":200,"y":-0.102,"lo":-0.152,"hi":-0.052},{"p":11,"x":0,"y":-0.02,"lo":-0.075,"hi":0.035},
{"p":12,"x":9000,"y":-1.038,"lo":-1.278,"hi":-0.798},{"p":12,"x":8850,"y":-0.95,"lo":-1.17,"hi":-0.73},{"p":12,"x":8700,"y":-0.87,"lo":-1.07,"hi":-0.67},{"p":12,"x":8550,"y":-0.794,"lo":-0.984,"hi":-0.604},{"p":12,"x":8400,"y":-0.727,"lo":-0.907,"hi":-0.547},{"p":12,"x":8250,"y":-0.682,"lo":-0.852,"hi":-0.512},{"p":12,"x":8100,"y":-0.666,"lo":-0.826,"hi":-0.506},{"p":12,"x":7950,"y":-0.659,"lo":-0.809,"hi":-0.509},{"p":12,"x":7800,"y":-0.651,"lo":-0.791,"hi":-0.511},{"p":12,"x":7600,"y":-0.634,"lo":-0.754,"hi":-0.514},{"p":12,"x":7400,"y":-0.607,"lo":-0.707,"hi":-0.507},{"p":12,"x":7200,"y":-0.575,"lo":-0.665,"hi":-0.485},{"p":12,"x":7000,"y":-0.54,"lo":-0.625,"hi":-0.455},{"p":12,"x":6800,"y":-0.508,"lo":-0.588,"hi":-0.428},{"p":12,"x":6600,"y":-0.484,"lo":-0.559,"hi":-0.409},{"p":12,"x":6400,"y":-0.474,"lo":-0.544,"hi":-0.404},{"p":12,"x":6200,"y":-0.474,"lo":-0.544,"hi":-0.404},{"p":12,"x":6000,"y":-0.484,"lo":-0.554,"hi":-0.414},{"p":12,"x":5800,"y":-0.495,"lo":-0.565,"hi":-0.425},{"p":12,"x":5600,"y":-0.503,"lo":-0.573,"hi":-0.433},{"p":12,"x":5400,"y":-0.495,"lo":-0.565,"hi":-0.425},{"p":12,"x":5200,"y":-0.463,"lo":-0.528,"hi":-0.398},{"p":12,"x":5000,"y":-0.415,"lo":-0.48,"hi":-0.35},{"p":12,"x":4800,"y":-0.359,"lo":-0.419,"hi":-0.299},{"p":12,"x":4600,"y":-0.308,"lo":-0.368,"hi":-0.248},{"p":12,"x":4400,"y":-0.271,"lo":-0.326,"hi":-0.216},{"p":12,"x":4200,"y":-0.244,"lo":-0.294,"hi":-0.194},{"p":12,"x":4000,"y":-0.232,"lo":-0.277,"hi":-0.187},{"p":12,"x":3800,"y":-0.216,"lo":-0.261,"hi":-0.171},{"p":12,"x":3600,"y":-0.204,"lo":-0.244,"hi":-0.164},{"p":12,"x":3400,"y":-0.195,"lo":-0.235,"hi":-0.155},{"p":12,"x":3200,"y":-0.18,"lo":-0.215,"hi":-0.145},{"p":12,"x":3000,"y":-0.16,"lo":-0.195,"hi":-0.125},{"p":12,"x":2800,"y":-0.136,"lo":-0.171,"hi":-0.101},{"p":12,"x":2600,"y":-0.12,"lo":-0.155,"hi":-0.085},{"p":12,"x":2400,"y":-0.117,"lo":-0.147,"hi":-0.087},{"p":12,"x":2200,"y":-0.123,"lo":-0.153,"hi":-0.093},{"p":12,"x":2000,"y":-0.133,"lo":-0.163,"hi":-0.103},{"p":12,"x":1800,"y":-0.141,"lo":-0.171,"hi":-0.111},{"p":12,"x":1600,"y":-0.144,"lo":-0.174,"hi":-0.114},{"p":12,"x":1400,"y":-0.141,"lo":-0.171,"hi":-0.111},{"p":12,"x":1200,"y":-0.133,"lo":-0.163,"hi":-0.103},{"p":12,"x":1000,"y":-0.123,"lo":-0.153,"hi":-0.093},{"p":12,"x":800,"y":-0.112,"lo":-0.142,"hi":-0.082},{"p":12,"x":600,"y":-0.088,"lo":-0.123,"hi":-0.053},{"p":12,"x":400,"y":-0.059,"lo":-0.094,"hi":-0.024},{"p":12,"x":200,"y":-0.04,"lo":-0.08,"hi":0.0},{"p":12,"x":0,"y":-0.016,"lo":-0.061,"hi":0.029}
],
"points":[
{"p":1,"g":"A","x":8790,"y":2.466,"lo":2.324,"hi":2.616},{"p":1,"g":"B","x":7050,"y":1.344,"lo":1.233,"hi":1.461},{"p":1,"g":"C","x":4710,"y":1.401,"lo":1.306,"hi":1.492},
{"p":2,"g":"A","x":8790,"y":1.608,"lo":1.418,"hi":1.801},{"p":2,"g":"B","x":7050,"y":0.677,"lo":0.566,"hi":0.781},{"p":2,"g":"C","x":4710,"y":0.727,"lo":0.578,"hi":0.876},
{"p":3,"g":"A","x":8790,"y":2.571,"lo":2.374,"hi":2.769},{"p":3,"g":"B","x":7050,"y":0.184,"lo":0.074,"hi":0.294},{"p":3,"g":"C","x":4710,"y":1.402,"lo":1.254,"hi":1.55},
{"p":4,"g":"A","x":8790,"y":2.309,"lo":2.097,"hi":2.521},{"p":4,"g":"B","x":7050,"y":-0.087,"lo":-0.204,"hi":0.029},{"p":4,"g":"C","x":4710,"y":1.185,"lo":1.037,"hi":1.339},
{"p":5,"g":"A","x":8790,"y":0.953,"lo":0.753,"hi":1.152},{"p":5,"g":"B","x":7050,"y":0.494,"lo":0.381,"hi":0.606},{"p":5,"g":"C","x":4710,"y":0.661,"lo":0.537,"hi":0.783},
{"p":6,"g":"A","x":8790,"y":0.824,"lo":0.674,"hi":0.971},{"p":6,"g":"B","x":7050,"y":0.316,"lo":0.205,"hi":0.425},{"p":6,"g":"C","x":4710,"y":0.977,"lo":0.833,"hi":1.12},
{"p":7,"g":"A","x":8790,"y":1.023,"lo":0.839,"hi":1.205},{"p":7,"g":"B","x":7050,"y":0.159,"lo":0.045,"hi":0.269},{"p":7,"g":"C","x":4710,"y":0.534,"lo":0.395,"hi":0.674},
{"p":8,"g":"A","x":8790,"y":1.451,"lo":1.264,"hi":1.635},{"p":8,"g":"B","x":7050,"y":0.589,"lo":0.489,"hi":0.685},{"p":8,"g":"C","x":4710,"y":0.62,"lo":0.489,"hi":0.747},
{"p":9,"g":"A","x":8790,"y":-1.874,"lo":-2.07,"hi":-1.678},{"p":9,"g":"B","x":7050,"y":-0.559,"lo":-0.674,"hi":-0.443},{"p":9,"g":"C","x":4710,"y":-0.939,"lo":-1.074,"hi":-0.802},
{"p":10,"g":"A","x":8790,"y":-3.132,"lo":-3.321,"hi":-2.954},{"p":10,"g":"B","x":7050,"y":0.118,"lo":0.011,"hi":0.225},{"p":10,"g":"C","x":4710,"y":-1.014,"lo":-1.154,"hi":-0.875},
{"p":11,"g":"A","x":8790,"y":-1.193,"lo":-1.378,"hi":-1.011},{"p":11,"g":"B","x":7050,"y":-0.942,"lo":-1.07,"hi":-0.815},{"p":11,"g":"C","x":4710,"y":-0.802,"lo":-0.988,"hi":-0.617},
{"p":12,"g":"A","x":8790,"y":-1.329,"lo":-1.549,"hi":-1.107},{"p":12,"g":"B","x":7050,"y":-0.519,"lo":-0.631,"hi":-0.404},{"p":12,"g":"C","x":4710,"y":-0.414,"lo":-0.551,"hi":-0.276}
],
"fits":[
{"p":1,"x":9000,"y":1.73},{"p":1,"x":0,"y":0.134},
{"p":2,"x":9000,"y":0.98},{"p":2,"x":0,"y":0.054},
{"p":3,"x":9000,"y":0.966},{"p":3,"x":0,"y":0.033},
{"p":4,"x":9000,"y":0.737},{"p":4,"x":0,"y":0.008},
{"p":5,"x":9000,"y":0.661},{"p":5,"x":0,"y":0.056},
{"p":6,"x":9000,"y":0.81},{"p":6,"x":0,"y":0.059},
{"p":7,"x":9000,"y":0.519},{"p":7,"x":0,"y":0.034},
{"p":8,"x":9000,"y":0.959},{"p":8,"x":0,"y":0.062},
{"p":9,"x":9000,"y":-0.917},{"p":9,"x":0,"y":-0.026},
{"p":10,"x":9000,"y":-0.725},{"p":10,"x":0,"y":-0.011},
{"p":11,"x":9000,"y":-1.045},{"p":11,"x":0,"y":-0.061},
{"p":12,"x":9000,"y":-0.57},{"p":12,"x":0,"y":-0.024}
]
},
"columns":4,
"spacing":{"column":25,"row":32},
"concat":[
{"title":{"text":"1","anchor":"start","frame":"bounds","fontSize":30,"fontWeight":"bold","offset":0,"dy":31,"dx":-10},"vconcat":[{"width":450,"height":387,
"title":{"text":["Darker skin color","γ = -1.77 ± 0.13 (P = 3.0e-45)","γₛᵢgₙ = -0.85 ± 0.13 (P = 3.5e-10)","rₛ = -0.19 ± 0.04 (P = 8.2e-07)"]},
"encoding":{"x":{"field":"x","type":"quantitative","scale":{"domain":[0,9000],"reverse":true,"nice":false,"zero":false},"axis":{"values":[0,2000,4000,6000,8000],"format":"d","title":"Date (years before present)"}}},
"layer":[
{"data":{"name":"curves"},"transform":[{"filter":"datum.p == 1"}],"mark":{"type":"area","color":"#e5e5e5","stroke":"#d8d8d8","strokeWidth":1,"interpolate":"monotone"},"encoding":{"y":{"field":"lo","type":"quantitative","title":"PGS","scale":{"domain":[-0.155,2.75],"nice":false,"zero":false},"axis":{"values":[0,0.5,1,1.5,2,2.5],"format":".1f","title":"PGS","minExtent":34,"maxExtent":34}},"y2":{"field":"hi"}}},
{"data":{"name":"curves"},"transform":[{"filter":"datum.p == 1"}],"mark":{"type":"line","color":"#262626","strokeWidth":2.2,"interpolate":"monotone"},"encoding":{"y":{"field":"y","type":"quantitative","title":"PGS"}}},
{"data":{"name":"fits"},"transform":[{"filter":"datum.p == 1"}],"mark":{"type":"line","color":"#ff2b1c","strokeWidth":2.2},"encoding":{"y":{"field":"y","type":"quantitative","title":"PGS"}}},
{"data":{"name":"points"},"transform":[{"filter":"datum.p == 1"}],"mark":{"type":"rule","strokeWidth":2.5},"encoding":{"y":{"field":"lo","type":"quantitative","title":"PGS"},"y2":{"field":"hi"},"color":{"field":"g","type":"nominal","scale":{"domain":["A","B","C"],"range":["#ee8b2c","#27a073","#1d71b6"]},"legend":null}}},
{"data":{"name":"points"},"transform":[{"filter":"datum.p == 1"}],"mark":{"type":"circle","size":200,"stroke":"#2a2a2a","strokeWidth":1.3,"opacity":1},"encoding":{"y":{"field":"y","type":"quantitative","title":"PGS"},"color":{"field":"g","type":"nominal","scale":{"domain":["A","B","C"],"range":["#ee8b2c","#27a073","#1d71b6"]},"legend":null}}}
]}]},
{"title":{"text":"2","anchor":"start","frame":"bounds","fontSize":30,"fontWeight":"bold","offset":0,"dy":31,"dx":-2},"vconcat":[{"width":450,"height":387,
"title":{"text":["Body fat percentage","γ = -1.03 ± 0.15 (P = 1.9e-12)","γₛᵢgₙ = -1.05 ± 0.15 (P = 1.1e-12)","rₛ = -0.14 ± 0.03 (P = 5.3e-08)"]},
"encoding":{"x":{"field":"x","type":"quantitative","scale":{"domain":[0,9000],"reverse":true,"nice":false,"zero":false},"axis":{"values":[0,2000,4000,6000,8000],"format":"d","title":"Date (years before present)"}}},
"layer":[
{"data":{"name":"curves"},"transform":[{"filter":"datum.p == 2"}],"mark":{"type":"area","color":"#e5e5e5","stroke":"#d8d8d8","strokeWidth":1,"interpolate":"monotone"},"encoding":{"y":{"field":"lo","type":"quantitative","title":"PGS","scale":{"domain":[-0.14,2.1],"nice":false,"zero":false},"axis":{"values":[0,0.25,0.5,0.75,1,1.25,1.5,1.75,2],"format":".2f","title":"PGS","minExtent":43,"maxExtent":43}},"y2":{"field":"hi"}}},
{"data":{"name":"curves"},"transform":[{"filter":"datum.p == 2"}],"mark":{"type":"line","color":"#262626","strokeWidth":2.2,"interpolate":"monotone"},"encoding":{"y":{"field":"y","type":"quantitative","title":"PGS"}}},
{"data":{"name":"fits"},"transform":[{"filter":"datum.p == 2"}],"mark":{"type":"line","color":"#ff2b1c","strokeWidth":2.2},"encoding":{"y":{"field":"y","type":"quantitative","title":"PGS"}}},
{"data":{"name":"points"},"transform":[{"filter":"datum.p == 2"}],"mark":{"type":"rule","strokeWidth":2.5},"encoding":{"y":{"field":"lo","type":"quantitative","title":"PGS"},"y2":{"field":"hi"},"color":{"field":"g","type":"nominal","scale":{"domain":["A","B","C"],"range":["#ee8b2c","#27a073","#1d71b6"]},"legend":null}}},
{"data":{"name":"points"},"transform":[{"filter":"datum.p == 2"}],"mark":{"type":"circle","size":200,"stroke":"#2a2a2a","strokeWidth":1.3,"opacity":1},"encoding":{"y":{"field":"y","type":"quantitative","title":"PGS"},"color":{"field":"g","type":"nominal","scale":{"domain":["A","B","C"],"range":["#ee8b2c","#27a073","#1d71b6"]},"legend":null}}}
]}]},
{"title":{"text":"3","anchor":"start","frame":"bounds","fontSize":30,"fontWeight":"bold","offset":0,"dy":31,"dx":-10},"vconcat":[{"width":450,"height":387,
"title":{"text":["Waist circumference","γ = -1.04 ± 0.15 (P = 1.3e-12)","γₛᵢgₙ = -1.03 ± 0.15 (P = 2.0e-12)","rₛ = -0.13 ± 0.03 (P = 1.2e-07)"]},
"encoding":{"x":{"field":"x","type":"quantitative","scale":{"domain":[0,9000],"reverse":true,"nice":false,"zero":false},"axis":{"values":[0,2000,4000,6000,8000],"format":"d","title":"Date (years before present)"}}},
"layer":[
{"data":{"name":"curves"},"transform":[{"filter":"datum.p == 3"}],"mark":{"type":"area","color":"#e5e5e5","stroke":"#d8d8d8","strokeWidth":1,"interpolate":"monotone"},"encoding":{"y":{"field":"lo","type":"quantitative","title":"PGS","scale":{"domain":[-0.18,2.9],"nice":false,"zero":false},"axis":{"values":[0,0.5,1,1.5,2,2.5],"format":".1f","title":"PGS","minExtent":34,"maxExtent":34}},"y2":{"field":"hi"}}},
{"data":{"name":"curves"},"transform":[{"filter":"datum.p == 3"}],"mark":{"type":"line","color":"#262626","strokeWidth":2.2,"interpolate":"monotone"},"encoding":{"y":{"field":"y","type":"quantitative","title":"PGS"}}},
{"data":{"name":"fits"},"transform":[{"filter":"datum.p == 3"}],"mark":{"type":"line","color":"#ff2b1c","strokeWidth":2.2},"encoding":{"y":{"field":"y","type":"quantitative","title":"PGS"}}},
{"data":{"name":"points"},"transform":[{"filter":"datum.p == 3"}],"mark":{"type":"rule","strokeWidth":2.5},"encoding":{"y":{"field":"lo","type":"quantitative","title":"PGS"},"y2":{"field":"hi"},"color":{"field":"g","type":"nominal","scale":{"domain":["A","B","C"],"range":["#ee8b2c","#27a073","#1d71b6"]},"legend":null}}},
{"data":{"name":"points"},"transform":[{"filter":"datum.p == 3"}],"mark":{"type":"circle","size":200,"stroke":"#2a2a2a","strokeWidth":1.3,"opacity":1},"encoding":{"y":{"field":"y","type":"quantitative","title":"PGS"},"color":{"field":"g","type":"nominal","scale":{"domain":["A","B","C"],"range":["#ee8b2c","#27a073","#1d71b6"]},"legend":null}}}
]}]},
{"title":{"text":"4","anchor":"start","frame":"bounds","fontSize":30,"fontWeight":"bold","offset":0,"dy":31,"dx":-10},"vconcat":[{"width":450,"height":387,
"title":{"text":["Waist to hip ratio","γ = -0.80 ± 0.14 (P = 8.3e-09)","γₛᵢgₙ = -0.85 ± 0.14 (P = 6.8e-10)","rₛ = -0.15 ± 0.03 (P = 3.0e-08)"]},
"encoding":{"x":{"field":"x","type":"quantitative","scale":{"domain":[0,9000],"reverse":true,"nice":false,"zero":false},"axis":{"values":[0,2000,4000,6000,8000],"format":"d","title":"Date (years before present)"}}},
"layer":[
{"data":{"name":"curves"},"transform":[{"filter":"datum.p == 4"}],"mark":{"type":"area","color":"#e5e5e5","stroke":"#d8d8d8","strokeWidth":1,"interpolate":"monotone"},"encoding":{"y":{"field":"lo","type":"quantitative","title":"PGS","scale":{"domain":[-0.33,2.65],"nice":false,"zero":false},"axis":{"values":[0,0.5,1,1.5,2,2.5],"format":".1f","title":"PGS","minExtent":34,"maxExtent":34}},"y2":{"field":"hi"}}},
{"data":{"name":"curves"},"transform":[{"filter":"datum.p == 4"}],"mark":{"type":"line","color":"#262626","strokeWidth":2.2,"interpolate":"monotone"},"encoding":{"y":{"field":"y","type":"quantitative","title":"PGS"}}},
{"data":{"name":"fits"},"transform":[{"filter":"datum.p == 4"}],"mark":{"type":"line","color":"#ff2b1c","strokeWidth":2.2},"encoding":{"y":{"field":"y","type":"quantitative","title":"PGS"}}},
{"data":{"name":"points"},"transform":[{"filter":"datum.p == 4"}],"mark":{"type":"rule","strokeWidth":2.5},"encoding":{"y":{"field":"lo","type":"quantitative","title":"PGS"},"y2":{"field":"hi"},"color":{"field":"g","type":"nominal","scale":{"domain":["A","B","C"],"range":["#ee8b2c","#27a073","#1d71b6"]},"legend":null}}},
{"data":{"name":"points"},"transform":[{"filter":"datum.p == 4"}],"mark":{"type":"circle","size":200,"stroke":"#2a2a2a","strokeWidth":1.3,"opacity":1},"encoding":{"y":{"field":"y","type":"quantitative","title":"PGS"},"color":{"field":"g","type":"nominal","scale":{"domain":["A","B","C"],"range":["#ee8b2c","#27a073","#1d71b6"]},"legend":null}}}
]}]},
{"title":{"text":"5","anchor":"start","frame":"bounds","fontSize":30,"fontWeight":"bold","offset":0,"dy":31,"dx":-10},"vconcat":[{"width":450,"height":387,
"title":{"text":["Bipolar disorder","γ = -0.67 ± 0.14 (P = 3.2e-06)","γₛᵢgₙ = -0.65 ± 0.15 (P = 1.0e-05)","rₛ = -0.16 ± 0.03 (P = 3.0e-08)"]},
"encoding":{"x":{"field":"x","type":"quantitative","scale":{"domain":[0,9000],"reverse":true,"nice":false,"zero":false},"axis":{"values":[0,2000,4000,6000,8000],"format":"d","title":"Date (years before present)"}}},
"layer":[
{"data":{"name":"curves"},"transform":[{"filter":"datum.p == 5"}],"mark":{"type":"area","color":"#e5e5e5","stroke":"#d8d8d8","strokeWidth":1,"interpolate":"monotone"},"encoding":{"y":{"field":"lo","type":"quantitative","title":"PGS","scale":{"domain":[-0.086,1.216],"nice":false,"zero":false},"axis":{"values":[0,0.2,0.4,0.6,0.8,1,1.2],"format":".1f","title":"PGS","minExtent":34,"maxExtent":34}},"y2":{"field":"hi"}}},
{"data":{"name":"curves"},"transform":[{"filter":"datum.p == 5"}],"mark":{"type":"line","color":"#262626","strokeWidth":2.2,"interpolate":"monotone"},"encoding":{"y":{"field":"y","type":"quantitative","title":"PGS"}}},
{"data":{"name":"fits"},"transform":[{"filter":"datum.p == 5"}],"mark":{"type":"line","color":"#ff2b1c","strokeWidth":2.2},"encoding":{"y":{"field":"y","type":"quantitative","title":"PGS"}}},
{"data":{"name":"points"},"transform":[{"filter":"datum.p == 5"}],"mark":{"type":"rule","strokeWidth":2.5},"encoding":{"y":{"field":"lo","type":"quantitative","title":"PGS"},"y2":{"field":"hi"},"color":{"field":"g","type":"nominal","scale":{"domain":["A","B","C"],"range":["#ee8b2c","#27a073","#1d71b6"]},"legend":null}}},
{"data":{"name":"points"},"transform":[{"filter":"datum.p == 5"}],"mark":{"type":"circle","size":200,"stroke":"#2a2a2a","strokeWidth":1.3,"opacity":1},"encoding":{"y":{"field":"y","type":"quantitative","title":"PGS"},"color":{"field":"g","type":"nominal","scale":{"domain":["A","B","C"],"range":["#ee8b2c","#27a073","#1d71b6"]},"legend":null}}}
]}]},
{"title":{"text":"6","anchor":"start","frame":"bounds","fontSize":30,"fontWeight":"bold","offset":0,"dy":31,"dx":-10},"vconcat":[{"width":450,"height":387,
"title":{"text":["Schizophrenia","γ = -0.84 ± 0.14 (P = 4.0e-09)","γₛᵢgₙ = -0.86 ± 0.14 (P = 1.6e-09)","rₛ = -0.19 ± 0.02 (P = 1.8e-15)"]},
"encoding":{"x":{"field":"x","type":"quantitative","scale":{"domain":[0,9000],"reverse":true,"nice":false,"zero":false},"axis":{"values":[0,2000,4000,6000,8000],"format":"d","title":"Date (years before present)"}}},
"layer":[
{"data":{"name":"curves"},"transform":[{"filter":"datum.p == 6"}],"mark":{"type":"area","color":"#e5e5e5","stroke":"#d8d8d8","strokeWidth":1,"interpolate":"monotone"},"encoding":{"y":{"field":"lo","type":"quantitative","title":"PGS","scale":{"domain":[-0.062,1.295],"nice":false,"zero":false},"axis":{"values":[0,0.2,0.4,0.6,0.8,1,1.2],"format":".1f","title":"PGS","minExtent":34,"maxExtent":34}},"y2":{"field":"hi"}}},
{"data":{"name":"curves"},"transform":[{"filter":"datum.p == 6"}],"mark":{"type":"line","color":"#262626","strokeWidth":2.2,"interpolate":"monotone"},"encoding":{"y":{"field":"y","type":"quantitative","title":"PGS"}}},
{"data":{"name":"fits"},"transform":[{"filter":"datum.p == 6"}],"mark":{"type":"line","color":"#ff2b1c","strokeWidth":2.2},"encoding":{"y":{"field":"y","type":"quantitative","title":"PGS"}}},
{"data":{"name":"points"},"transform":[{"filter":"datum.p == 6"}],"mark":{"type":"rule","strokeWidth":2.5},"encoding":{"y":{"field":"lo","type":"quantitative","title":"PGS"},"y2":{"field":"hi"},"color":{"field":"g","type":"nominal","scale":{"domain":["A","B","C"],"range":["#ee8b2c","#27a073","#1d71b6"]},"legend":null}}},
{"data":{"name":"points"},"transform":[{"filter":"datum.p == 6"}],"mark":{"type":"circle","size":200,"stroke":"#2a2a2a","strokeWidth":1.3,"opacity":1},"encoding":{"y":{"field":"y","type":"quantitative","title":"PGS"},"color":{"field":"g","type":"nominal","scale":{"domain":["A","B","C"],"range":["#ee8b2c","#27a073","#1d71b6"]},"legend":null}}}
]}]},
{"title":{"text":"7","anchor":"start","frame":"bounds","fontSize":30,"fontWeight":"bold","offset":0,"dy":31,"dx":-10},"vconcat":[{"width":450,"height":387,
"title":{"text":["Current smoker","γ = -0.54 ± 0.14 (P = 6.8e-05)","γₛᵢgₙ = -0.69 ± 0.14 (P = 5.5e-07)","rₛ = -0.20 ± 0.04 (P = 3.7e-07)"]},
"encoding":{"x":{"field":"x","type":"quantitative","scale":{"domain":[0,9000],"reverse":true,"nice":false,"zero":false},"axis":{"values":[0,2000,4000,6000,8000],"format":"d","title":"Date (years before present)"}}},
"layer":[
{"data":{"name":"curves"},"transform":[{"filter":"datum.p == 7"}],"mark":{"type":"area","color":"#e5e5e5","stroke":"#d8d8d8","strokeWidth":1,"interpolate":"monotone"},"encoding":{"y":{"field":"lo","type":"quantitative","title":"PGS","scale":{"domain":[-0.094,1.264],"nice":false,"zero":false},"axis":{"values":[0,0.2,0.4,0.6,0.8,1,1.2],"format":".1f","title":"PGS","minExtent":34,"maxExtent":34}},"y2":{"field":"hi"}}},
{"data":{"name":"curves"},"transform":[{"filter":"datum.p == 7"}],"mark":{"type":"line","color":"#262626","strokeWidth":2.2,"interpolate":"monotone"},"encoding":{"y":{"field":"y","type":"quantitative","title":"PGS"}}},
{"data":{"name":"fits"},"transform":[{"filter":"datum.p == 7"}],"mark":{"type":"line","color":"#ff2b1c","strokeWidth":2.2},"encoding":{"y":{"field":"y","type":"quantitative","title":"PGS"}}},
{"data":{"name":"points"},"transform":[{"filter":"datum.p == 7"}],"mark":{"type":"rule","strokeWidth":2.5},"encoding":{"y":{"field":"lo","type":"quantitative","title":"PGS"},"y2":{"field":"hi"},"color":{"field":"g","type":"nominal","scale":{"domain":["A","B","C"],"range":["#ee8b2c","#27a073","#1d71b6"]},"legend":null}}},
{"data":{"name":"points"},"transform":[{"filter":"datum.p == 7"}],"mark":{"type":"circle","size":200,"stroke":"#2a2a2a","strokeWidth":1.3,"opacity":1},"encoding":{"y":{"field":"y","type":"quantitative","title":"PGS"},"color":{"field":"g","type":"nominal","scale":{"domain":["A","B","C"],"range":["#ee8b2c","#27a073","#1d71b6"]},"legend":null}}}
]}]},
{"title":{"text":"8","anchor":"start","frame":"bounds","fontSize":30,"fontWeight":"bold","offset":0,"dy":31,"dx":-2},"vconcat":[{"width":450,"height":387,
"title":{"text":["Overall health decline","γ = -1.00 ± 0.14 (P = 2.2e-13)","γₛᵢgₙ = -1.06 ± 0.12 (P = 1.2e-17)","rₛ = -0.18 ± 0.03 (P = 8.6e-09)"]},
"encoding":{"x":{"field":"x","type":"quantitative","scale":{"domain":[0,9000],"reverse":true,"nice":false,"zero":false},"axis":{"values":[0,2000,4000,6000,8000],"format":"d","title":"Date (years before present)"}}},
"layer":[
{"data":{"name":"curves"},"transform":[{"filter":"datum.p == 8"}],"mark":{"type":"area","color":"#e5e5e5","stroke":"#d8d8d8","strokeWidth":1,"interpolate":"monotone"},"encoding":{"y":{"field":"lo","type":"quantitative","title":"PGS","scale":{"domain":[-0.122,1.71],"nice":false,"zero":false},"axis":{"values":[0,0.25,0.5,0.75,1,1.25,1.5],"format":".2f","title":"PGS","minExtent":43,"maxExtent":43}},"y2":{"field":"hi"}}},
{"data":{"name":"curves"},"transform":[{"filter":"datum.p == 8"}],"mark":{"type":"line","color":"#262626","strokeWidth":2.2,"interpolate":"monotone"},"encoding":{"y":{"field":"y","type":"quantitative","title":"PGS"}}},
{"data":{"name":"fits"},"transform":[{"filter":"datum.p == 8"}],"mark":{"type":"line","color":"#ff2b1c","strokeWidth":2.2},"encoding":{"y":{"field":"y","type":"quantitative","title":"PGS"}}},
{"data":{"name":"points"},"transform":[{"filter":"datum.p == 8"}],"mark":{"type":"rule","strokeWidth":2.5},"encoding":{"y":{"field":"lo","type":"quantitative","title":"PGS"},"y2":{"field":"hi"},"color":{"field":"g","type":"nominal","scale":{"domain":["A","B","C"],"range":["#ee8b2c","#27a073","#1d71b6"]},"legend":null}}},
{"data":{"name":"points"},"transform":[{"filter":"datum.p == 8"}],"mark":{"type":"circle","size":200,"stroke":"#2a2a2a","strokeWidth":1.3,"opacity":1},"encoding":{"y":{"field":"y","type":"quantitative","title":"PGS"},"color":{"field":"g","type":"nominal","scale":{"domain":["A","B","C"],"range":["#ee8b2c","#27a073","#1d71b6"]},"legend":null}}}
]}]},
{"title":{"text":"9","anchor":"start","frame":"bounds","fontSize":30,"fontWeight":"bold","offset":0,"dy":31,"dx":0},"vconcat":[{"width":450,"height":387,
"title":{"text":["Walking pace","γ = 0.99 ± 0.14 (P = 5.1e-12)","γₛᵢgₙ = 1.12 ± 0.15 (P = 2.0e-14)","rₛ = 0.17 ± 0.03 (P = 1.3e-08)"]},
"encoding":{"x":{"field":"x","type":"quantitative","scale":{"domain":[0,9000],"reverse":true,"nice":false,"zero":false},"axis":{"values":[0,2000,4000,6000,8000],"format":"d","title":"Date (years before present)"}}},
"layer":[
{"data":{"name":"curves"},"transform":[{"filter":"datum.p == 9"}],"mark":{"type":"area","color":"#e5e5e5","stroke":"#d8d8d8","strokeWidth":1,"interpolate":"monotone"},"encoding":{"y":{"field":"lo","type":"quantitative","title":"PGS","scale":{"domain":[-2.2,0.16],"nice":false,"zero":false},"axis":{"values":[-2,-1.5,-1,-0.5,0],"format":".1f","title":"PGS","minExtent":45,"maxExtent":45}},"y2":{"field":"hi"}}},
{"data":{"name":"curves"},"transform":[{"filter":"datum.p == 9"}],"mark":{"type":"line","color":"#262626","strokeWidth":2.2,"interpolate":"monotone"},"encoding":{"y":{"field":"y","type":"quantitative","title":"PGS"}}},
{"data":{"name":"fits"},"transform":[{"filter":"datum.p == 9"}],"mark":{"type":"line","color":"#ff2b1c","strokeWidth":2.2},"encoding":{"y":{"field":"y","type":"quantitative","title":"PGS"}}},
{"data":{"name":"points"},"transform":[{"filter":"datum.p == 9"}],"mark":{"type":"rule","strokeWidth":2.5},"encoding":{"y":{"field":"lo","type":"quantitative","title":"PGS"},"y2":{"field":"hi"},"color":{"field":"g","type":"nominal","scale":{"domain":["A","B","C"],"range":["#ee8b2c","#27a073","#1d71b6"]},"legend":null}}},
{"data":{"name":"points"},"transform":[{"filter":"datum.p == 9"}],"mark":{"type":"circle","size":200,"stroke":"#2a2a2a","strokeWidth":1.3,"opacity":1},"encoding":{"y":{"field":"y","type":"quantitative","title":"PGS"},"color":{"field":"g","type":"nominal","scale":{"domain":["A","B","C"],"range":["#ee8b2c","#27a073","#1d71b6"]},"legend":null}}}
]}]},
{"title":{"text":"10","anchor":"start","frame":"bounds","fontSize":30,"fontWeight":"bold","offset":0,"dy":31,"dx":-20},"vconcat":[{"width":450,"height":387,
"title":{"text":["Intelligence","γ = 0.79 ± 0.14 (P = 1.7e-08)","γₛᵢgₙ = 0.77 ± 0.14 (P = 3.5e-08)","rₛ = 0.15 ± 0.02 (P = 5.5e-10)"]},
"encoding":{"x":{"field":"x","type":"quantitative","scale":{"domain":[0,9000],"reverse":true,"nice":false,"zero":false},"axis":{"values":[0,2000,4000,6000,8000],"format":"d","title":"Date (years before present)"}}},
"layer":[
{"data":{"name":"curves"},"transform":[{"filter":"datum.p == 10"}],"mark":{"type":"area","color":"#e5e5e5","stroke":"#d8d8d8","strokeWidth":1,"interpolate":"monotone"},"encoding":{"y":{"field":"lo","type":"quantitative","title":"PGS","scale":{"domain":[-3.48,0.39],"nice":false,"zero":false},"axis":{"values":[-3,-2.5,-2,-1.5,-1,-0.5,0],"format":".1f","title":"PGS","minExtent":45,"maxExtent":45}},"y2":{"field":"hi"}}},
{"data":{"name":"curves"},"transform":[{"filter":"datum.p == 10"}],"mark":{"type":"line","color":"#262626","strokeWidth":2.2,"interpolate":"monotone"},"encoding":{"y":{"field":"y","type":"quantitative","title":"PGS"}}},
{"data":{"name":"fits"},"transform":[{"filter":"datum.p == 10"}],"mark":{"type":"line","color":"#ff2b1c","strokeWidth":2.2},"encoding":{"y":{"field":"y","type":"quantitative","title":"PGS"}}},
{"data":{"name":"points"},"transform":[{"filter":"datum.p == 10"}],"mark":{"type":"rule","strokeWidth":2.5},"encoding":{"y":{"field":"lo","type":"quantitative","title":"PGS"},"y2":{"field":"hi"},"color":{"field":"g","type":"nominal","scale":{"domain":["A","B","C"],"range":["#ee8b2c","#27a073","#1d71b6"]},"legend":null}}},
{"data":{"name":"points"},"transform":[{"filter":"datum.p == 10"}],"mark":{"type":"circle","size":200,"stroke":"#2a2a2a","strokeWidth":1.3,"opacity":1},"encoding":{"y":{"field":"y","type":"quantitative","title":"PGS"},"color":{"field":"g","type":"nominal","scale":{"domain":["A","B","C"],"range":["#ee8b2c","#27a073","#1d71b6"]},"legend":null}}}
]}]},
{"title":{"text":"11","anchor":"start","frame":"bounds","fontSize":30,"fontWeight":"bold","offset":0,"dy":31,"dx":-20},"vconcat":[{"width":450,"height":387,
"title":{"text":["Household income","γ = 1.11 ± 0.14 (P = 8.1e-15)","γₛᵢgₙ = 1.32 ± 0.14 (P = 5.0e-20)","rₛ = 0.23 ± 0.03 (P = 1.1e-13)"]},
"encoding":{"x":{"field":"x","type":"quantitative","scale":{"domain":[0,9000],"reverse":true,"nice":false,"zero":false},"axis":{"values":[0,2000,4000,6000,8000],"format":"d","title":"Date (years before present)"}}},
"layer":[
{"data":{"name":"curves"},"transform":[{"filter":"datum.p == 11"}],"mark":{"type":"area","color":"#e5e5e5","stroke":"#d8d8d8","strokeWidth":1,"interpolate":"monotone"},"encoding":{"y":{"field":"lo","type":"quantitative","title":"PGS","scale":{"domain":[-1.68,0.1],"nice":false,"zero":false},"axis":{"values":[-1.6,-1.4,-1.2,-1,-0.8,-0.6,-0.4,-0.2,0],"format":".1f","title":"PGS","minExtent":45,"maxExtent":45}},"y2":{"field":"hi"}}},
{"data":{"name":"curves"},"transform":[{"filter":"datum.p == 11"}],"mark":{"type":"line","color":"#262626","strokeWidth":2.2,"interpolate":"monotone"},"encoding":{"y":{"field":"y","type":"quantitative","title":"PGS"}}},
{"data":{"name":"fits"},"transform":[{"filter":"datum.p == 11"}],"mark":{"type":"line","color":"#ff2b1c","strokeWidth":2.2},"encoding":{"y":{"field":"y","type":"quantitative","title":"PGS"}}},
{"data":{"name":"points"},"transform":[{"filter":"datum.p == 11"}],"mark":{"type":"rule","strokeWidth":2.5},"encoding":{"y":{"field":"lo","type":"quantitative","title":"PGS"},"y2":{"field":"hi"},"color":{"field":"g","type":"nominal","scale":{"domain":["A","B","C"],"range":["#ee8b2c","#27a073","#1d71b6"]},"legend":null}}},
{"data":{"name":"points"},"transform":[{"filter":"datum.p == 11"}],"mark":{"type":"circle","size":200,"stroke":"#2a2a2a","strokeWidth":1.3,"opacity":1},"encoding":{"y":{"field":"y","type":"quantitative","title":"PGS"},"color":{"field":"g","type":"nominal","scale":{"domain":["A","B","C"],"range":["#ee8b2c","#27a073","#1d71b6"]},"legend":null}}}
]}]},
{"title":{"text":"12","anchor":"start","frame":"bounds","fontSize":30,"fontWeight":"bold","offset":0,"dy":31,"dx":-20},"vconcat":[{"width":450,"height":387,
"title":{"text":["Years of schooling","γ = 0.61 ± 0.13 (P = 2.7e-06)","γₛᵢgₙ = 0.61 ± 0.13 (P = 4.2e-06)","rₛ = 0.17 ± 0.03 (P = 1.5e-07)"]},
"encoding":{"x":{"field":"x","type":"quantitative","scale":{"domain":[0,9000],"reverse":true,"nice":false,"zero":false},"axis":{"values":[0,2000,4000,6000,8000],"format":"d","title":"Date (years before present)"}}},
"layer":[
{"data":{"name":"curves"},"transform":[{"filter":"datum.p == 12"}],"mark":{"type":"area","color":"#e5e5e5","stroke":"#d8d8d8","strokeWidth":1,"interpolate":"monotone"},"encoding":{"y":{"field":"lo","type":"quantitative","title":"PGS","scale":{"domain":[-1.62,0.11],"nice":false,"zero":false},"axis":{"values":[-1.6,-1.4,-1.2,-1,-0.8,-0.6,-0.4,-0.2,0],"format":".1f","title":"PGS","minExtent":45,"maxExtent":45}},"y2":{"field":"hi"}}},
{"data":{"name":"curves"},"transform":[{"filter":"datum.p == 12"}],"mark":{"type":"line","color":"#262626","strokeWidth":2.2,"interpolate":"monotone"},"encoding":{"y":{"field":"y","type":"quantitative","title":"PGS"}}},
{"data":{"name":"fits"},"transform":[{"filter":"datum.p == 12"}],"mark":{"type":"line","color":"#ff2b1c","strokeWidth":2.2},"encoding":{"y":{"field":"y","type":"quantitative","title":"PGS"}}},
{"data":{"name":"points"},"transform":[{"filter":"datum.p == 12"}],"mark":{"type":"rule","strokeWidth":2.5},"encoding":{"y":{"field":"lo","type":"quantitative","title":"PGS"},"y2":{"field":"hi"},"color":{"field":"g","type":"nominal","scale":{"domain":["A","B","C"],"range":["#ee8b2c","#27a073","#1d71b6"]},"legend":null}}},
{"data":{"name":"points"},"transform":[{"filter":"datum.p == 12"}],"mark":{"type":"circle","size":200,"stroke":"#2a2a2a","strokeWidth":1.3,"opacity":1},"encoding":{"y":{"field":"y","type":"quantitative","title":"PGS"},"color":{"field":"g","type":"nominal","scale":{"domain":["A","B","C"],"range":["#ee8b2c","#27a073","#1d71b6"]},"legend":null}}}
]}]}
],
"config":{
"font":"DejaVu Sans",
"view":{"stroke":null},
"title":{"font":"DejaVu Sans","fontSize":18,"fontWeight":"normal","color":"#262626","lineHeight":23,"offset":6},
"axis":{"labelFont":"DejaVu Sans","titleFont":"DejaVu Sans","labelFontSize":15,"titleFontSize":15,"titleFontWeight":"normal","labelColor":"#262626","titleColor":"#262626","domainColor":"#2e2e2e","tickColor":"#2e2e2e","domainWidth":1.3,"tickWidth":1.3,"tickSize":5,"labelPadding":4,"grid":false,"titlePadding":6},
"axisY":{"titlePadding":4},
"axisX":{"labelFlush":false}
}
}
